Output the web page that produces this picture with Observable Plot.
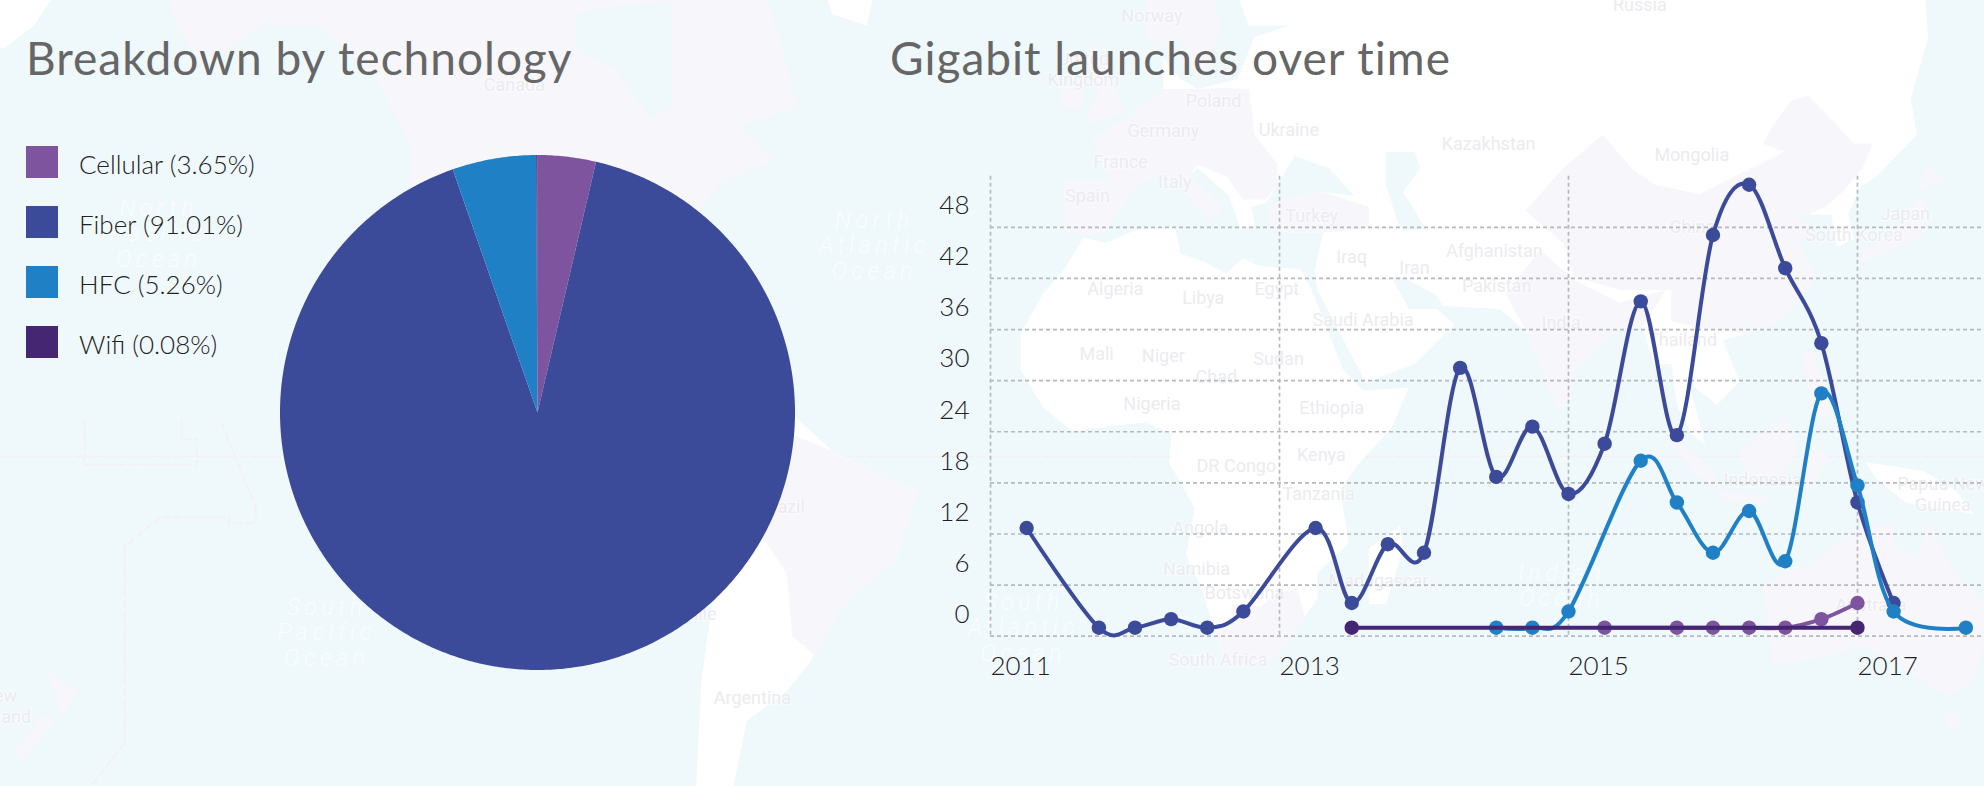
<!DOCTYPE html>
<html>
<head>
<meta charset="utf-8">
<script src="https://cdn.jsdelivr.net/npm/d3@7"></script>
<script src="https://cdn.jsdelivr.net/npm/@observablehq/plot@0.6"></script>
<style>
html,body{margin:0;padding:0;width:1984px;height:786px;overflow:hidden;background:#eff8fb;font-family:Lato,sans-serif}
.layer{position:absolute}
h2{position:absolute;margin:0;font-weight:400;font-size:46px;letter-spacing:1px;line-height:54px;color:#666;white-space:nowrap}
.legend{position:absolute;left:26px;top:146px}
.legend div{position:relative;height:60px;font-size:26px;font-weight:300;color:#222;white-space:nowrap}
.legend i{position:absolute;left:0;top:0;width:32px;height:32px}
.legend span{position:absolute;left:53px;top:2px;line-height:32px}
text[aria-label="ocean names"]{letter-spacing:.2em}
</style>
</head>
<body>
<div id="map" class="layer" style="left:0;top:0"></div>
<div id="pie" class="layer" style="left:280px;top:155px"></div>
<div id="line" class="layer" style="left:880px;top:140px"></div>
<h2 style="left:26px;top:31px">Breakdown by technology</h2>
<h2 style="left:890px;top:31px">Gigabit launches over time</h2>
<div class="legend" id="legend"></div>
<script>
// ---------- chart data ----------
const technologies = ["Cellular", "Fiber", "HFC", "Wifi"];
const shares = [3.65, 91.01, 5.26, 0.08];
const colors = ["#7e549f", "#3c4a9a", "#2080c6", "#452673"];

const quarters = d3.range(28).map(i => 2011 + i / 4);
const fiber =    [null,12.7,null,1,1,2,1,2.9,null,12.7,3.9,10.8,9.8,31.5,18.7,24.6,16.7,22.6,39.3,23.6,47.1,53,43.2,34.4,15.7,3.9,null,null];
const hfc =      [null,null,null,null,null,null,null,null,null,null,null,null,null,null,1,1,2.9,null,20.6,15.7,9.8,14.7,8.8,28.5,17.7,2.9,null,1];
const cellular = [null,null,null,null,null,null,null,null,null,null,null,null,null,null,null,null,null,1,null,1,1,1,1,2,3.9,null,null,null];
const wifi =     [null,null,null,null,null,null,null,null,null,null,1,null,null,null,null,null,null,null,null,null,null,null,null,null,1,null,null,null];
const seriesValues = [cellular, fiber, hfc, wifi];

const yTicks = [0, 6, 12, 18, 24, 30, 36, 42, 48];
const xTicks = [2011, 2013, 2015, 2017];

// ---------- backdrop map data (lon/lat) ----------
const landWhite = [
  [[-17,15],[-17,21],[-13,27.5],[-9.5,31],[-6,35.8],[-2,35],[3,36.8],[10,37.3],[11,33.5],[15,32.3],[19,30.5],[22,32.8],[25,31.6],[32,31.2],[34,28],[37,21],[39.5,15],[43,11.5],[51,12],[48,5],[42,-1.5],[39,-6],[40.5,-15],[35,-20],[35,-24],[32.8,-27],[28,-33],[20,-34.8],[18,-32],[14.5,-22],[12,-17],[13.5,-9],[9,-1],[9.5,4],[5,6],[-4,5],[-8,4.5],[-13,8.5]],
  [[44,-16],[49.5,-12],[50,-16],[47,-25],[44,-25]],
  [[-9.5,37],[-9,43.5],[-1.5,43.5],[-4.5,48.5],[2,51],[8,54],[8,57],[11,55],[14,54],[21,55],[24,59],[30,60],[23,60],[21,62.5],[30,70],[70,75],[120,75],[140,70],[142,59],[139,53],[140,49],[133,44],[130,42.5],[128,39],[129,35.5],[126,34.5],[125,39],[121,39],[118,39],[122,37],[119,35],[122,31],[121,28],[116,23],[110,21],[106,20],[109,13],[105,9],[100,13],[103,2],[100.5,4],[98,9],[97,16],[94,16],[92,22],[88,22],[80,15],[79.5,10],[77.5,8],[73,18],[72,21],[67,25],[57,25.5],[56,27],[50,30],[48,30],[51,25],[56,25],[59,22.5],[52,16],[43.5,12.8],[39,21],[35,28],[34.5,31],[36,36.5],[30,36.5],[27,37],[26.5,40],[29,41],[36,42],[41.5,41.5],[37,45],[31,46.5],[28,43],[26,40.5],[23.5,40],[24,37.5],[21.5,37],[19.5,41.5],[14,45],[12.5,44],[18.5,40],[16,38],[12,42],[8.5,44.3],[3.5,43],[0,39.5],[-2,36.8],[-5.5,36]],
  [[131,-1],[141,-2.5],[147,-6],[150,-10],[143,-9],[138,-8],[133,-4]],
  [[-78,8],[-72,12],[-60,10],[-50,1],[-35,-6],[-39,-18],[-48,-25],[-54,-34],[-58,-38],[-65,-42],[-68,-52],[-74,-52],[-73,-37],[-70,-18],[-76,-14],[-81,-5],[-78,2]],
  [[160,65],[178,65],[170,60],[165,58],[160,58]],
  [[-52,64],[-42,64],[-44,60],[-50,61]]
];
const landLilac = [
  [[17,-29],[20,-28.5],[20,-25],[25,-25.5],[27.5,-23.5],[31.5,-22.5],[32.8,-27],[28,-33],[20,-34.8],[18,-32]],
  [[-9.5,37],[-9,43.5],[-1.5,43.5],[-4.5,48.5],[2,51],[8,54],[14,54],[23,54],[24,49],[28,45.5],[28,43],[26,41],[22,41],[19,44],[14,45.5],[12.5,44],[18.5,40],[16,38],[12,42],[8.5,44.3],[3.5,43],[0,39.5],[-2,36.8],[-5.5,36]],
  [[5,59],[8,58],[11,59],[13,56],[16,56],[18,60],[17,62],[30,70],[5,70]],
  [[-5.5,50],[1,51.5],[0,53.5],[-2,56],[-3,58.5],[-6,57],[-3,54],[-5,52]],
  [[-10,52],[-6,52],[-6,55],[-10,54]],
  [[26.5,40],[29,41],[36,42],[44,40],[44,37],[36,36.5],[30,36.5],[27,37]],
  [[71.5,39.5],[78,45],[85,49],[90,45],[94,43],[102,41.7],[109.5,44.5],[116.7,47],[113,48],[114.6,49.8],[118,52.8],[121,53.3],[124.7,51],[129,48],[132.3,48],[130.5,45],[127,42],[124,40],[121,39],[118,39],[122,37],[119,35],[122,31],[121,28],[116,23],[110,21],[106,21.5],[102,22],[97,23],[97,28],[88,28],[80,30],[78,35]],
  [[68,27.5],[74,34],[80,29.5],[88,26],[96,28],[92,22],[88,22],[80,15],[79.5,10],[77.5,8],[73,18],[72,21],[70,24]],
  [[95,5.5],[104,-2],[106,-6],[101,-3]],
  [[109,1],[117,7],[119,1],[116,-4],[110,-3]],
  [[105,-6],[114,-7],[114,-8.5],[106,-7.5]],
  [[119,-5],[120,1],[125,1],[122,-5]],
  [[120,18],[122,18],[125,7],[122,7]],
  [[130,32],[136,34],[141,36],[141.5,41],[140,41],[136,36.5],[131,34]],
  [[140,42],[145,43.5],[142,45.5]],
  [[113,-22],[122,-18],[130,-12],[136,-12],[136,-15],[140,-17.5],[142,-11],[146,-19],[153,-26],[150,-37],[145,-38.5],[138,-35],[131,-31.5],[124,-33],[115,-34.5]],
  [[144.5,-41],[148,-41],[147,-43.5],[145.5,-43]],
  [[172.5,-35],[178,-38],[175,-41.5]],
  [[172,-41],[174,-42],[168,-47],[166.5,-46]],
  [[-168,66],[-140,72],[-80,75],[-60,60],[-56,52],[-66,50],[-60,46],[-70,43],[-75,38],[-81,31],[-80,25],[-82,28],[-84,30],[-90,29],[-97,27],[-97,21],[-91,18.5],[-87,21],[-88,16],[-83,15],[-83,10],[-78,9],[-80,7.5],[-85,10],[-95,16],[-105,20],[-110,24],[-113,31],[-117,33],[-122,37],[-124,42],[-124,48],[-130,55],[-140,60],[-150,60],[-160,56],[-165,60]],
  [[-60,5],[-50,1],[-35,-6],[-39,-18],[-48,-25],[-53,-33],[-57,-30],[-58,-20],[-65,-10],[-73,-8],[-70,-1]]
];
const inlandSea = [
  [[47,47],[52,47],[53,45],[50,42],[54,37],[50,36.7],[49,38],[47,43]],
  [[-95,61],[-78,62],[-78,52],[-82,51],[-88,56],[-95,58]]
];
const seaLines = [
  [[-181,6.3],[-181,-1.4],[-161.4,-1.4],[-161.4,3],[-164,3],[-164,6.3]],
  [[-157,5.8],[-151,-9],[-151,-11.6],[-155.7,-11.6],[-155.7,-10.6],[-167.8,-10.6],[-174,-15.6],[-174,-44.8],[-180,-50]],
  [[-200,0],[-140,0],[-80,0],[-20,0],[40,0],[100,0],[157,0]]
];
const countryNames = ["Norway","Russia","United\nKingdom","Poland","Germany","Ukraine","France","Kazakhstan","Mongolia","Italy","Spain","Turkey","Japan","South Korea","China","Iraq","Afghanistan","Iran","Pakistan","Algeria","Libya","Egypt","Saudi Arabia","India","Mali","Niger","Chad","Sudan","Thailand","Ethiopia","Nigeria","Kenya","DR Congo","Tanzania","Angola","Namibia","Botswana","Madagascar","South Africa","Indonesia","Papua New\nGuinea","Australia","Canada","Argentina","Brazil","Chile","New\nZealand"];
const countryLons = [6,91.5,-6,16.8,8,30,0.5,65,100.6,10,-5.3,34,138,129,100.7,41,66,52,66.4,-0.4,15,27.9,43,77.7,-3.7,8,17.3,28.2,99,37.5,6,35.7,20.8,35.2,14.5,13.8,22.2,45.7,17.6,113,144.6,132,-105.7,-64,-58.7,-73.8,164];
const countryLats = [60.9,61.8,56,52.8,49.5,49.6,45.8,48,46.7,43.3,41.6,38.9,39.2,36.2,37.3,33,33.9,31.5,28.7,28.3,26.9,28.3,23.4,22.8,17.7,17.5,13.9,16.9,20.1,8.5,9.3,0.4,-1.6,-6.4,-12.3,-19.2,-23.1,-21.2,-33.4,-4,-6.5,-25,54.5,-38.9,-8.7,-26.5,-40];
const oceanNames = ["North\nPacific\nOcean","North\nAtlantic\nOcean","South\nPacific\nOcean","South\nAtlantic\nOcean","Indian\nOcean"];
const oceanLons = [-168,-42.6,-138.6,-16.5,77.8];
const oceanLats = [36.4,34.7,-29.4,-28.6,-22];

// ---------- helpers ----------
const polygon = ring => {
  const closed = [...ring, ring[0]];
  const f = {type: "Polygon", coordinates: [closed]};
  return d3.geoArea(f) > 2 * Math.PI ? {type: "Polygon", coordinates: [[...closed].reverse()]} : f;
};
const line = coordinates => ({type: "LineString", coordinates});

// ---------- backdrop map ----------
const projection = d3.geoMercator().rotate([22, 0]).scale(327).translate([991.6, 456]);
const toRows = (names, lons, lats) => names.map((name, i) => ({name, lon: lons[i], lat: lats[i]}));
document.getElementById("map").append(Plot.plot({
  width: 1984, height: 786, margin: 0,
  projection,
  style: {background: "transparent"},
  marks: [
    Plot.geo(seaLines.map(line), {stroke: "#f6eeef", strokeWidth: 1.5, strokeDasharray: "7 4", fill: "none"}),
    Plot.geo(landWhite.map(polygon), {fill: "#ffffff"}),
    Plot.geo(landLilac.map(polygon), {fill: "#f7f6fb"}),
    Plot.geo(inlandSea.map(polygon), {fill: "#eff8fb"}),
    Plot.text(toRows(oceanNames, oceanLons, oceanLats), {
      x: "lon", y: "lat", text: "name", fill: "#ffffff", fillOpacity: 0.75, fontSize: 23, lineHeight: 1.11,
      fontFamily: "Roboto", fontStyle: "italic", fontWeight: 300, ariaLabel: () => "ocean names"
    }),
    Plot.text(toRows(countryNames, countryLons, countryLats), {
      x: "lon", y: "lat", text: "name", fill: "#ebebf0", stroke: "#ffffff", strokeWidth: 3, strokeOpacity: 0.45,
      fontSize: 18, fontWeight: 400, fontFamily: "Roboto", lineHeight: 1.15
    })
  ]
}));

// ---------- pie ----------
const total = d3.sum(shares);
let running = 0;
const pieRows = technologies.flatMap((technology, i) => {
  const start = running / total * 2 * Math.PI;
  running += shares[i];
  const end = running / total * 2 * Math.PI;
  const steps = Math.max(2, Math.ceil((end - start) / 0.01));
  return d3.range(steps + 1).map(k => {
    const a = start + (end - start) * k / steps;
    return {technology, px: Math.sin(a), py: Math.cos(a)};
  });
});
document.getElementById("pie").append(Plot.plot({
  width: 515, height: 515, margin: 0,
  x: {domain: [-1, 1], axis: null},
  y: {domain: [-1, 1], axis: null},
  color: {domain: technologies, range: colors},
  style: {background: "transparent"},
  marks: [
    Plot.area(pieRows, {x1: "px", y1: "py", x2: () => 0, y2: () => 0, z: "technology", fill: "technology"})
  ]
}));

// ---------- legend ----------
document.getElementById("legend").innerHTML = technologies.map((t, i) =>
  `<div><i style="background:${colors[i]}"></i><span>${t} (${shares[i].toFixed(2)}%)</span></div>`).join("");

// ---------- lines ----------
const rows = technologies.flatMap((technology, s) =>
  quarters.map((year, i) => ({technology, year, value: seriesValues[s][i]})).filter(d => d.value != null));
const dash = {stroke: "#b7babc", strokeWidth: 1.7, strokeDasharray: "4 3"};
const seriesMarks = technologies.flatMap(t => {
  const data = rows.filter(d => d.technology === t);
  return [
    Plot.line(data, {x: "year", y: "value", stroke: "technology", strokeWidth: 4, curve: "cardinal"}),
    Plot.dot(data, {x: "year", y: "value", fill: "technology", r: 7.2})
  ];
});
document.getElementById("line").append(Plot.plot({
  width: 1104, height: 646,
  marginLeft: 110, marginRight: 0, marginTop: 35.7, marginBottom: 150.3,
  x: {domain: [2011, 2017.879]},
  y: {domain: [0, 54]},
  color: {domain: technologies, range: colors},
  style: {background: "transparent", fontFamily: "Lato", color: "#222"},
  marks: [
    Plot.ruleY(yTicks, dash),
    Plot.ruleX(xTicks, dash),
    ...seriesMarks,
    Plot.axisY(yTicks, {anchor: "left", tickSize: 0, tickPadding: 21, dy: -21.5, label: null, fontSize: 26, fontWeight: 300, tickFormat: d => String(d)}),
    Plot.axisX(xTicks, {anchor: "bottom", tickSize: 0, tickPadding: 20, label: null, fontSize: 26, fontWeight: 300, textAnchor: "start", tickFormat: d => String(d)})
  ]
}));
</script>
</body>
</html>
